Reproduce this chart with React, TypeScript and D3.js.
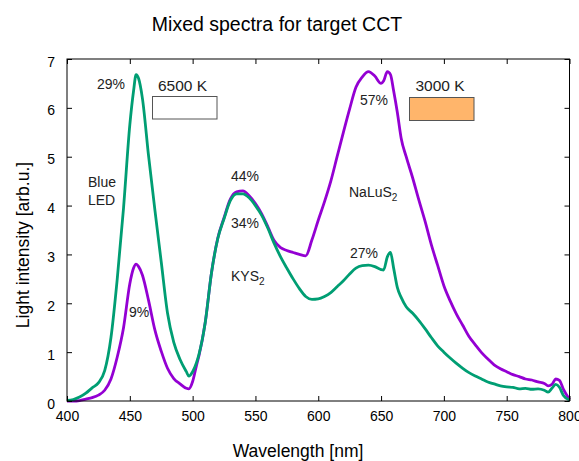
import React, { useEffect, useRef } from 'react';
import * as d3 from 'd3';

// wavelength grid shared by both mixed spectra (nm)
const wavelengths = [
  400, 405, 410, 415, 420, 425, 430, 435, 440, 445, 450, 453, 455, 457, 460, 465, 470, 475, 480, 485,
  490, 495, 497, 500, 503, 505, 510, 515, 520, 525, 530, 535, 540, 545, 550, 555, 560, 565, 570, 575,
  580, 585, 590, 595, 600, 605, 610, 615, 620, 625, 630, 635, 640, 645, 650, 652, 655, 657.5, 660, 663,
  666, 670, 675, 680, 685, 690, 695, 700, 705, 710, 715, 720, 725, 730, 735, 740, 745, 750, 755, 760,
  765, 770, 775, 780, 783, 786, 789, 792, 795, 800,
];

// 6500 K mix (green)
const spectrum6500 = [
  0.01, 0.03, 0.08, 0.16, 0.27, 0.37, 0.62, 1.3, 2.5, 3.95, 5.65, 6.35, 6.68, 6.6, 6.2, 5.0, 3.9, 2.85, 1.8, 1.2,
  0.85, 0.6, 0.51, 0.6, 0.78, 0.95, 1.6, 2.62, 3.32, 3.73, 4.1, 4.24, 4.24, 4.16, 4.0, 3.8, 3.53, 3.22, 2.95, 2.72,
  2.5, 2.3, 2.14, 2.08, 2.09, 2.14, 2.22, 2.34, 2.46, 2.6, 2.72, 2.77, 2.78, 2.75, 2.69, 2.68, 2.95, 3.04, 2.72, 2.32,
  2.12, 1.93, 1.8, 1.65, 1.48, 1.3, 1.13, 1.0, 0.88, 0.77, 0.67, 0.58, 0.51, 0.45, 0.39, 0.35, 0.31, 0.29, 0.28, 0.25,
  0.26, 0.24, 0.25, 0.22, 0.18, 0.26, 0.34, 0.28, 0.12, 0.02,
];

// 3000 K mix (purple)
const spectrum3000 = [
  0.0, 0.0, 0.01, 0.04, 0.07, 0.12, 0.22, 0.45, 0.9, 1.5, 2.4, 2.72, 2.8, 2.75, 2.58, 2.05, 1.45, 1.02, 0.67, 0.46,
  0.35, 0.26, 0.25, 0.4, 0.72, 0.92, 1.6, 2.62, 3.33, 3.75, 4.13, 4.28, 4.3, 4.2, 4.04, 3.83, 3.56, 3.28, 3.14, 3.08,
  3.04, 3.0, 2.97, 3.3, 3.7, 4.08, 4.5, 5.0, 5.5, 5.98, 6.42, 6.63, 6.74, 6.65, 6.5, 6.55, 6.74, 6.68, 6.35, 5.9,
  5.38, 5.0, 4.58, 4.12, 3.68, 3.2, 2.78, 2.36, 2.05, 1.78, 1.55, 1.32, 1.15, 0.99, 0.86, 0.74, 0.66, 0.6, 0.54, 0.5,
  0.45, 0.43, 0.39, 0.36, 0.31, 0.34, 0.45, 0.42, 0.25, 0.03,
];

const xTicks = [400, 450, 500, 550, 600, 650, 700, 750, 800];
const yTicks = [0, 1, 2, 3, 4, 5, 6, 7];

const FONT = '"Liberation Sans", Arial, Helvetica, sans-serif';

const App = () => {
  const svgRef = useRef<SVGSVGElement>(null);

  useEffect(() => {
    const svg = d3.select(svgRef.current);
    svg.selectAll('*').remove();

    const width = 579;
    const height = 461;
    const left = 67, right = 569.5, top = 59, bottom = 401;

    const x = d3.scaleLinear().domain([400, 800]).range([left, right]);
    const y = d3.scaleLinear().domain([0, 7]).range([bottom, top]);

    svg.attr('width', width).attr('height', height).style('background', '#fff');

    // curves
    const line = d3.line<number>()
      .x((d, i) => x(wavelengths[i]))
      .y(d => y(d))
      .curve(d3.curveMonotoneX);

    svg.append('path')
      .datum(spectrum3000)
      .attr('d', line)
      .attr('fill', 'none')
      .attr('stroke', '#9400d3')
      .attr('stroke-width', 2.8)
      .attr('stroke-linejoin', 'round');

    svg.append('path')
      .datum(spectrum6500)
      .attr('d', line)
      .attr('fill', 'none')
      .attr('stroke', '#009e73')
      .attr('stroke-width', 2.8)
      .attr('stroke-linejoin', 'round');

    // axes, ticks pointing inwards, mirrored on top/right
    const styleAxis = (g: any) => {
      g.select('.domain').remove();
      g.selectAll('line').attr('stroke', '#000');
      g.selectAll('text').attr('fill', '#000').style('font-family', FONT).style('font-size', '14px');
    };

    svg.append('g')
      .attr('transform', `translate(0,${bottom})`)
      .call(d3.axisBottom(x).tickValues(xTicks).tickSizeInner(-5).tickSizeOuter(0).tickPadding(10.5).tickFormat(d3.format('d')))
      .call(styleAxis);

    svg.append('g')
      .attr('transform', `translate(${left},0)`)
      .call(d3.axisLeft(y).tickValues(yTicks).tickSizeInner(-5).tickSizeOuter(0).tickPadding(12).tickFormat(d3.format('d')))
      .call(styleAxis)
      .selectAll('text').attr('dy', '0.5em');

    svg.append('g')
      .attr('transform', `translate(0,${top})`)
      .call(d3.axisTop(x).tickValues(xTicks).tickSizeInner(-5).tickSizeOuter(0).tickFormat(() => ''))
      .call(styleAxis);

    svg.append('g')
      .attr('transform', `translate(${right},0)`)
      .call(d3.axisRight(y).tickValues(yTicks).tickSizeInner(-5).tickSizeOuter(0).tickFormat(() => ''))
      .call(styleAxis);

    svg.append('rect')
      .attr('x', left).attr('y', top)
      .attr('width', right - left).attr('height', bottom - top)
      .attr('fill', 'none').attr('stroke', '#000').attr('stroke-width', 1);

    // titles
    svg.append('text')
      .attr('x', 277).attr('y', 31)
      .attr('text-anchor', 'middle')
      .style('font-family', FONT).style('font-size', '19.5px')
      .text('Mixed spectra for target CCT');

    svg.append('text')
      .attr('x', 298).attr('y', 457)
      .attr('text-anchor', 'middle')
      .style('font-family', FONT).style('font-size', '17.5px')
      .text('Wavelength [nm]');

    svg.append('text')
      .attr('transform', `translate(29,245) rotate(-90)`)
      .attr('text-anchor', 'middle')
      .style('font-family', FONT).style('font-size', '17.5px')
      .text('Light intensity [arb.u.]');

    // annotations
    const note = (tx: number, ty: number, s: string, sub?: string) => {
      const t = svg.append('text')
        .attr('x', tx).attr('y', ty)
        .attr('fill', '#222')
        .style('font-family', FONT).style('font-size', '14px');
      t.append('tspan').text(s);
      if (sub) {
        t.append('tspan').attr('dy', 4).style('font-size', '10px').text(sub);
      }
    };

    note(97, 89, '29%');
    note(88, 187, 'Blue');
    note(88, 205, 'LED');
    note(231, 180.5, '44%');
    note(231, 227.5, '34%');
    note(231, 281, 'KYS', '2');
    note(129, 317, '9%');
    note(349, 197, 'NaLuS', '2');
    note(360, 104.5, '57%');
    note(350, 257.5, '27%');

    svg.append('text')
      .attr('x', 158).attr('y', 91)
      .attr('fill', '#222')
      .style('font-family', FONT).style('font-size', '15.5px')
      .text('6500 K');
    svg.append('rect')
      .attr('x', 152.5).attr('y', 96.5).attr('width', 64.5).attr('height', 22.5)
      .attr('fill', '#fff').attr('stroke', '#555').attr('stroke-width', 1);

    svg.append('text')
      .attr('x', 415.5).attr('y', 91)
      .attr('fill', '#222')
      .style('font-family', FONT).style('font-size', '15.5px')
      .text('3000 K');
    svg.append('rect')
      .attr('x', 409.5).attr('y', 97.5).attr('width', 64.5).attr('height', 23)
      .attr('fill', '#ffb56b').attr('stroke', '#555').attr('stroke-width', 1);
  }, []);

  return (
    <div style={{ position: 'absolute', left: 0, top: 0 }}>
      <svg ref={svgRef} style={{ display: 'block' }}></svg>
    </div>
  );
};

export default App;
